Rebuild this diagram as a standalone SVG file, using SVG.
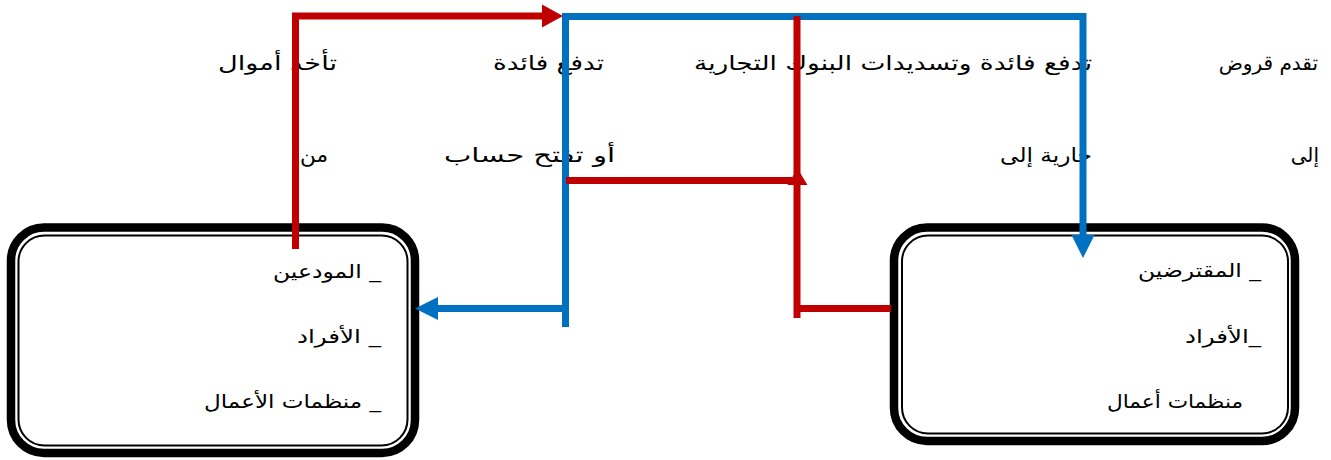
<svg xmlns="http://www.w3.org/2000/svg" width="1331" height="460" viewBox="0 0 1331 460">
<style>
.bg{fill:#ffffff}
.outer{fill:none;stroke:#000;stroke-width:8.5}
.inner{fill:none;stroke:#000;stroke-width:2}
.lbl{font-family:"DejaVu Sans","Noto Sans",sans-serif;font-size:20px;fill:#000;direction:rtl;text-anchor:start}
.item{font-family:"DejaVu Sans","Liberation Sans",sans-serif;font-size:19px;fill:#000;direction:rtl;text-anchor:start}
.red{fill:none;stroke:#C00000;stroke-width:7;stroke-linecap:butt;stroke-linejoin:miter}
.blue{fill:none;stroke:#0070C0;stroke-width:7;stroke-linecap:butt;stroke-linejoin:miter}
.redh{fill:#C00000}
.blueh{fill:#0070C0}
</style>
<rect class="bg" x="0" y="0" width="1331" height="460"/>
<g id="labels">
<text class="lbl" x="1318" y="70">تقدم قروض</text>
<text class="lbl" x="1092" y="70" textLength="398" lengthAdjust="spacingAndGlyphs">تدفع فائدة وتسديدات البنوك التجارية</text>
<text class="lbl" x="604" y="70" textLength="111" lengthAdjust="spacingAndGlyphs">تدفع فائدة</text>
<text class="lbl" x="337" y="70" textLength="119" lengthAdjust="spacingAndGlyphs">تأخذ أموال</text>
<text class="lbl" x="1319" y="162">إلى</text>
<text class="lbl" x="1092" y="162" textLength="92" lengthAdjust="spacingAndGlyphs">جارية إلى</text>
<text class="lbl" x="615" y="162" textLength="171" lengthAdjust="spacingAndGlyphs">أو تفتح حساب</text>
<text class="lbl" x="328" y="162" textLength="28" lengthAdjust="spacingAndGlyphs">من</text>
</g>
<g id="depositors">
<rect class="outer" x="11" y="227.5" width="404" height="225.5" rx="33" ry="33"/>
<rect class="inner" x="18.5" y="235.5" width="389" height="210" rx="26" ry="26"/>
<text class="item" x="381" y="278" textLength="108" lengthAdjust="spacingAndGlyphs">_ المودعين</text>
<text class="item" x="381" y="343" textLength="84" lengthAdjust="spacingAndGlyphs">_ الأفراد</text>
<text class="item" x="381" y="408" textLength="177" lengthAdjust="spacingAndGlyphs">_ منظمات الأعمال</text>
</g>
<g id="borrowers">
<rect class="outer" x="894" y="227.5" width="401" height="213.5" rx="33" ry="33"/>
<rect class="inner" x="902" y="235.5" width="386" height="198" rx="26" ry="26"/>
<text class="item" x="1261" y="277" textLength="123" lengthAdjust="spacingAndGlyphs">_ المقترضين</text>
<text class="item" x="1261" y="343" textLength="76" lengthAdjust="spacingAndGlyphs">_الأفراد</text>
<text class="item" x="1243" y="408" textLength="136" lengthAdjust="spacingAndGlyphs">منظمات أعمال</text>
</g>
<g id="connectors">
<path class="blue" d="M565.5,327 V16.5 H1083 V238"/>
<path class="blue" d="M565.5,308.5 H436"/>
<polygon class="blueh" points="438,297 415,308.5 438,320"/>
<polygon class="blueh" points="1071.5,235 1094.5,235 1083,258"/>
<path class="red" d="M295.5,249 V16 H544"/>
<polygon class="redh" points="542,4.5 563,16 542,27.5"/>
<path class="red" d="M797,318 V16"/>
<path class="red" d="M797,308.5 H891"/>
<path class="red" d="M566,180.5 H792"/>
<polygon class="redh" points="787.5,185 797.5,168.5 807.5,185"/>
</g>
</svg>
